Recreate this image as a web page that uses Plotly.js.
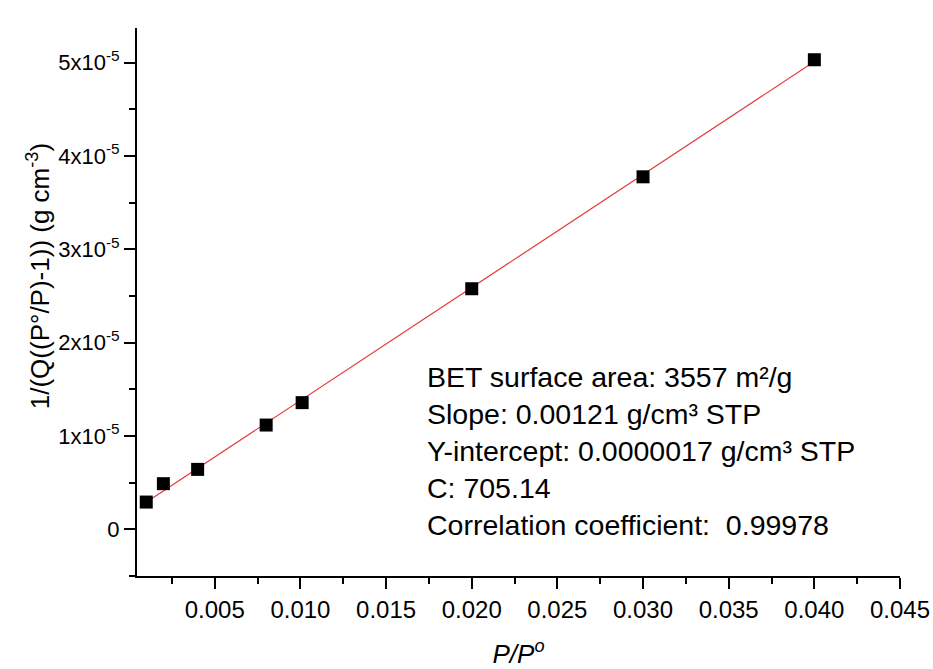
<!DOCTYPE html>
<html>
<head>
<meta charset="utf-8">
<script src="https://cdn.plot.ly/plotly-3.0.1.min.js"></script>
<style>
  html, body { margin: 0; padding: 0; background: #ffffff; }
  #chart { width: 933px; height: 669px; }
</style>
</head>
<body>
<div id="chart"></div>
<script>
// Data
const relPressure = [0.001, 0.002, 0.004, 0.008, 0.0101, 0.020, 0.030, 0.040];
const betValue = [0.292e-5, 0.489e-5, 0.642e-5, 1.117e-5, 1.357e-5, 2.577e-5, 3.776e-5, 5.03e-5];
const fitSlope = 0.00121;
const fitIntercept = 0.0000017;
const yTickVals = [0, 1e-5, 2e-5, 3e-5, 4e-5, 5e-5];
const yTickText = ["0", "1x10<sup>-5</sup>", "2x10<sup>-5</sup>", "3x10<sup>-5</sup>", "4x10<sup>-5</sup>", "5x10<sup>-5</sup>"];
const xTickVals = [0.005, 0.010, 0.015, 0.020, 0.025, 0.030, 0.035, 0.040, 0.045];
const xTickText = ["0.005", "0.010", "0.015", "0.020", "0.025", "0.030", "0.035", "0.040", "0.045"];
const yTitle = "1/(Q((P°/P)-1)) (g cm<sup>-3</sup>)";
const xTitle = "<i>P/P<sup>o</sup></i>";
const infoLines = [
  "BET surface area: 3557 m²/g",
  "Slope: 0.00121 g/cm³ STP",
  "Y-intercept: 0.0000017 g/cm³ STP",
  "C: 705.14",
  "Correlation coefficient:  0.99978"
];

const fitX = [relPressure[0], relPressure[relPressure.length - 1]];
const fitY = fitX.map(x => fitIntercept + fitSlope * x);

const font = "Liberation Sans, Arial, Helvetica, sans-serif";

const traces = [
  {
    x: fitX, y: fitY, type: "scatter", mode: "lines",
    line: { color: "#e5383b", width: 1.2 },
    hoverinfo: "skip", showlegend: false
  },
  {
    x: relPressure, y: betValue, type: "scatter", mode: "markers",
    marker: { symbol: "square", size: 13, color: "#000000", line: { width: 0 } },
    showlegend: false
  }
];

const layout = {
  width: 933, height: 669,
  paper_bgcolor: "#ffffff", plot_bgcolor: "#ffffff",
  margin: { l: 137, r: 33, t: 28, b: 93 },
  font: { family: font, color: "#000000" },
  showlegend: false,
  xaxis: {
    range: [0.00046, 0.045],
    tickmode: "array", tickvals: xTickVals, ticktext: xTickText,
    ticks: "outside", ticklen: 11, tickwidth: 2, tickcolor: "#000",
    minor: { dtick: 0.0025, tick0: 0, ticks: "outside", ticklen: 6, tickwidth: 2, tickcolor: "#000", showgrid: false },
    showline: true, linecolor: "#000", linewidth: 2,
    showgrid: false, zeroline: false,
    tickfont: { family: font, size: 24, color: "#000" },
    title: { text: xTitle, font: { family: font, size: 26, color: "#000" }, standoff: 31 },
    automargin: false
  },
  yaxis: {
    range: [-0.5e-5, 5.37e-5],
    tickmode: "array", tickvals: yTickVals, ticktext: yTickText,
    ticks: "outside", ticklen: 11, tickwidth: 2, tickcolor: "#000",
    minor: { dtick: 0.5e-5, tick0: 0, ticks: "outside", ticklen: 6, tickwidth: 2, tickcolor: "#000", showgrid: false },
    showline: true, linecolor: "#000", linewidth: 2,
    showgrid: false, zeroline: false,
    tickfont: { family: font, size: 22, color: "#000" },
    automargin: false
  },
  annotations: [
    {
      xref: "paper", yref: "paper",
      x: 0.3772, y: 0.228, xanchor: "left", yanchor: "middle",
      align: "left", showarrow: false,
      text: infoLines.join("<br>"),
      font: { family: font, size: 28.5, color: "#000" }
    },
    {
      xref: "paper", yref: "paper",
      x: 0, y: 0.547, xanchor: "center", yanchor: "middle",
      xshift: -99, textangle: -90, showarrow: false,
      text: yTitle,
      font: { family: font, size: 26, color: "#000" }
    }
  ]
};

Plotly.newPlot("chart", traces, layout, { staticPlot: true, displayModeBar: false });
</script>
</body>
</html>
